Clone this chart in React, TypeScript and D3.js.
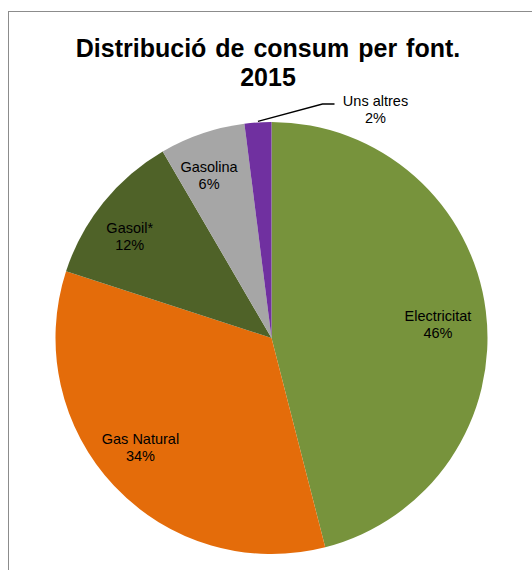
import React from "react";
import * as d3 from "d3";

const categories = ["Electricitat", "Gas Natural", "Gasoil*", "Gasolina", "Uns altres"];
const values = [46, 34, 11.6, 6.4, 2];
const colors = ["#77933C", "#E46C0A", "#4F6228", "#A6A6A6", "#7030A0"];
const titleLines = ["Distribució de consum per font.", "2015"];

// label placement (angle shift in degrees from slice middle, radius as fraction of R)
const labelShift = [2.7, 3.2, -3.4, -2.3, 0];
const labelRadius = [0.773, 0.792, 0.806, 0.806, 0];

const W = 532;
const H = 570;
const cx = 271.5;
const cy = 338;
const R = 216;

export default function App() {
  const total = d3.sum(values);
  const pie = d3.pie<number>().sort(null).value((d) => d)(values);
  const arc = d3.arc<d3.PieArcDatum<number>>().innerRadius(0).outerRadius(R);
  const font = "'Liberation Sans', Arial, sans-serif";
  const fs = 14.5;

  return (
    <svg width={W} height={H} style={{ position: "absolute", left: 0, top: 0 }}>
      <rect x={0} y={0} width={W} height={H} fill="#fff" />
      <rect x={8.5} y={11.5} width={W + 20} height={H + 20} fill="#fff" stroke="#8c8c8c" strokeWidth={1} />
      {titleLines.map((t, i) => (
        <text key={i} x={268} y={57 + i * 29} textAnchor="middle" fontFamily={font} fontWeight="bold" fontSize={25} wordSpacing={2} fill="#000">
          {t}
        </text>
      ))}
      <g transform={`translate(${cx},${cy})`}>
        {pie.map((p, i) => (
          <path key={i} d={arc(p) || ""} fill={colors[i]} />
        ))}
        {pie.map((p, i) => {
          const pct = Math.round((values[i] / total) * 100) + "%";
          if (i === 4) {
            const mid = (p.startAngle + p.endAngle) / 2;
            const x0 = R * Math.sin(mid);
            const y0 = -R * Math.cos(mid);
            return (
              <g key={i}>
                <polyline points={`${x0},${y0 - 1} ${51},${-234} ${63},${-234}`} fill="none" stroke="#000" strokeWidth={1.3} />
                <text x={104} y={-232} textAnchor="middle" fontFamily={font} fontSize={fs} fill="#000">{categories[i]}</text>
                <text x={104} y={-215} textAnchor="middle" fontFamily={font} fontSize={fs} fill="#000">{pct}</text>
              </g>
            );
          }
          const mid = (p.startAngle + p.endAngle) / 2 + (labelShift[i] * Math.PI) / 180;
          const r = R * labelRadius[i];
          const x = r * Math.sin(mid);
          const y = -r * Math.cos(mid);
          return (
            <g key={i}>
              <text x={x} y={y - 4} textAnchor="middle" fontFamily={font} fontSize={fs} fill="#000">{categories[i]}</text>
              <text x={x} y={y + 13} textAnchor="middle" fontFamily={font} fontSize={fs} fill="#000">{pct}</text>
            </g>
          );
        })}
      </g>
    </svg>
  );
}
